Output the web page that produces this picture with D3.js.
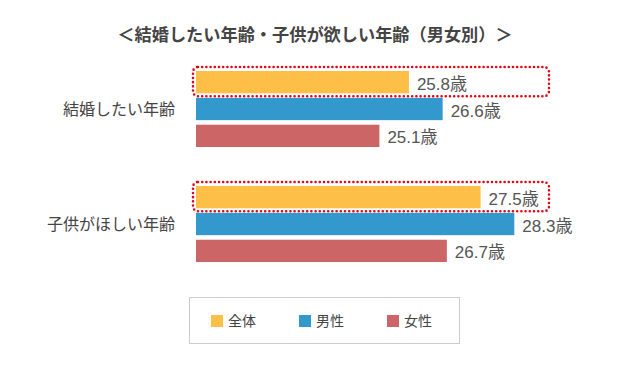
<!DOCTYPE html>
<html>
<head>
<meta charset="utf-8">
<script src="https://cdn.jsdelivr.net/npm/d3@7"></script>
<style>
  body { margin: 0; background: #fff; }
  svg { font-family: "Noto Sans CJK JP", "Noto Sans", sans-serif; }
</style>
</head>
<body>
<div class="chart"></div>
<script>
// data
const categories = ['結婚したい年齢', '子供がほしい年齢'];
const seriesNames = ['全体', '男性', '女性'];
const zentai = [25.8, 27.5];
const dansei = [26.6, 28.3];
const josei = [25.1, 26.7];
const titleText = '＜結婚したい年齢・子供が欲しい年齢（男女別）＞';
const unit = '歳';

const colors = ['#fdbf47', '#3399cc', '#cc6666'];

const width = 640;
const height = 378;

const svg = d3.select('.chart')
  .append('svg')
  .attr('width', width)
  .attr('height', height);

// title
svg.append('text')
  .attr('x', 315)
  .attr('y', 40.5)
  .attr('text-anchor', 'middle')
  .attr('font-size', '17.2px')
  .attr('font-weight', 'bold')
  .attr('fill', '#444')
  .text(titleText);

const series = [zentai, dansei, josei];

// scales
const x = d3.scaleLinear()
  .domain([20.75, 30])
  .range([196, 586]);

const y0 = d3.scaleBand()
  .domain(categories)
  .range([71, 267])
  .paddingInner(0.296);

const y1 = d3.scaleBand()
  .domain(seriesNames)
  .range([0, 76])
  .paddingInner(0.17);

const groups = svg.selectAll('.group')
  .data(categories)
  .enter()
  .append('g')
  .attr('class', 'group')
  .attr('transform', (d) => `translate(0,${y0(d)})`);

// category labels
groups.append('text')
  .attr('x', 175)
  .attr('y', y1('男性') + y1.bandwidth() / 2)
  .attr('dy', '0.36em')
  .attr('text-anchor', 'end')
  .attr('font-size', '16px')
  .attr('fill', '#444')
  .text((d) => d);

// bars
groups.each(function (cat, ci) {
  const g = d3.select(this);
  seriesNames.forEach((name, si) => {
    const v = series[si][ci];
    g.append('rect')
      .attr('x', x.range()[0])
      .attr('y', y1(name))
      .attr('width', x(v) - x.range()[0])
      .attr('height', y1.bandwidth())
      .attr('fill', colors[si]);
    g.append('text')
      .attr('x', x(v) + 8)
      .attr('y', y1(name) + y1.bandwidth() / 2 + 7.5)
      .attr('font-size', '17px')
      .attr('fill', '#555')
      .style('font-family', '"Liberation Sans", "Noto Sans CJK JP", sans-serif')
      .text(v.toFixed(1) + unit);
  });

  // dotted highlight round the 全体 bar
  g.append('rect')
    .attr('x', 193)
    .attr('y', y1('全体') - 4)
    .attr('width', 356)
    .attr('height', y1.bandwidth() + 7)
    .attr('rx', 5)
    .attr('fill', 'none')
    .attr('stroke', '#e60012')
    .attr('stroke-width', 2.6)
    .attr('stroke-linecap', 'round')
    .attr('stroke-dasharray', '0,4.2');
});

// legend
const legend = svg.append('g')
  .attr('transform', 'translate(189,297)');

legend.append('rect')
  .attr('x', 0.5)
  .attr('y', 0.5)
  .attr('width', 270)
  .attr('height', 46)
  .attr('fill', '#fff')
  .attr('stroke', '#ccc');

const legendX = d3.scalePoint()
  .domain(seriesNames)
  .range([22, 198]);

const items = legend.selectAll('.item')
  .data(seriesNames)
  .enter()
  .append('g')
  .attr('class', 'item')
  .attr('transform', (d) => `translate(${legendX(d)},18)`);

items.append('rect')
  .attr('width', 12)
  .attr('height', 12)
  .attr('fill', (d, i) => colors[i]);

items.append('text')
  .attr('x', 17)
  .attr('y', 6)
  .attr('dy', '0.36em')
  .attr('font-size', '14px')
  .attr('fill', '#444')
  .text((d) => d);
</script>
</body>
</html>
